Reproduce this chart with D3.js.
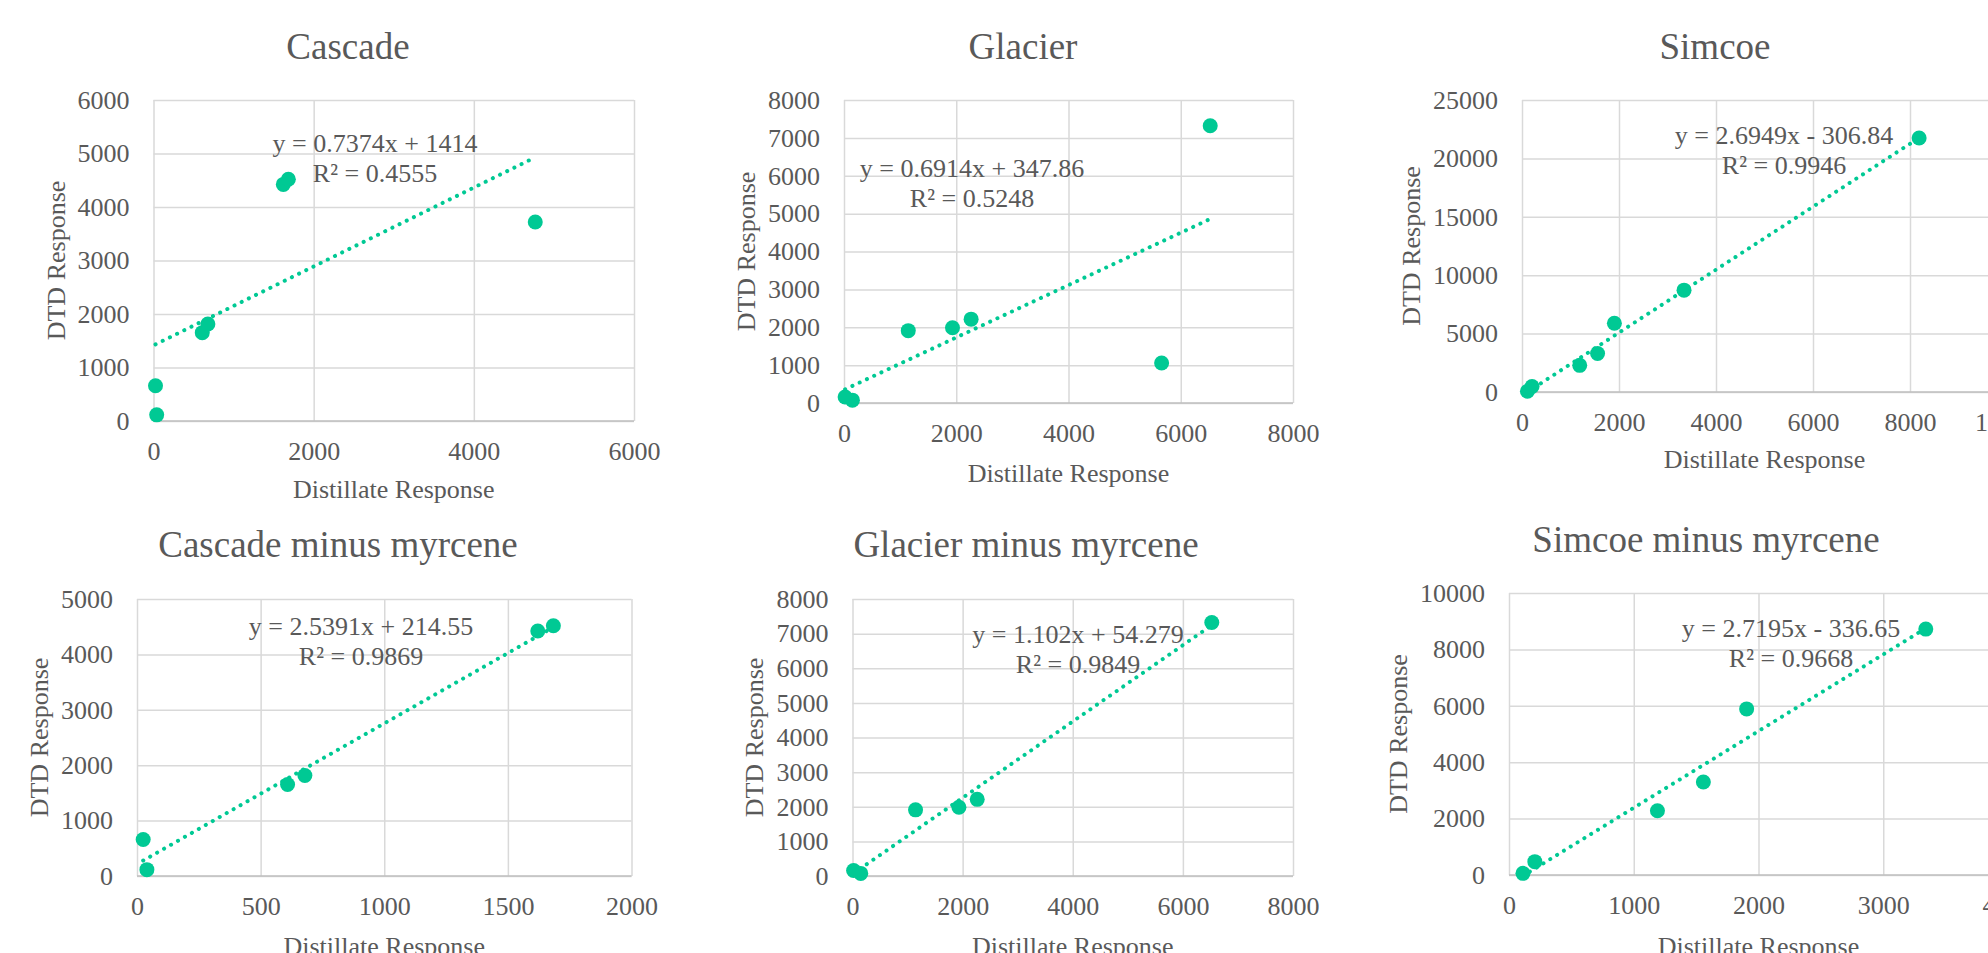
<!DOCTYPE html>
<html>
<head>
<meta charset="utf-8">
<script src="https://cdn.jsdelivr.net/npm/d3@7/dist/d3.min.js"></script>
<style>
  body { margin: 0; background: #fff; }
  svg { display: block; font-family: "Liberation Serif", "Times New Roman", serif; }
</style>
</head>
<body>
<div id="chart"></div>
<script>
// values (distillate vs DTD response)
var cascadeX = [25, 40, 609, 679, 1621, 1684, 4767];
var cascadeY = [660, 115, 1651, 1813, 4422, 4518, 3719];
var glacierX = [20, 150, 1145, 1933, 2265, 5659, 6525];
var glacierY = [160, 75, 1910, 1985, 2214, 1057, 7320];
var simcoeX = [112, 207, 1190, 1558, 1905, 3341, 8188];
var simcoeY = [59, 473, 2280, 3300, 5890, 8720, 21750];

// same samples with the myrcene point left out
var cascadeMinusX = [25, 40, 609, 679, 1621, 1684];
var cascadeMinusY = [660, 115, 1651, 1813, 4422, 4518];
var glacierMinusX = [20, 150, 1145, 1933, 2265, 6525];
var glacierMinusY = [160, 75, 1910, 1985, 2214, 7320];
var simcoeMinusX = [112, 207, 1190, 1558, 1905, 3341];
var simcoeMinusY = [59, 473, 2280, 3300, 5890, 8720];

// linear trendlines as printed on the chart: [slope, intercept]
var cascadeFit = [0.7374, 1414];
var glacierFit = [0.6914, 347.86];
var simcoeFit = [2.6949, -306.84];
var cascadeMinusFit = [2.5391, 214.55];
var glacierMinusFit = [1.102, 54.279];
var simcoeMinusFit = [2.7195, -336.65];

var cascadeEq = ["y = 0.7374x + 1414", "R² = 0.4555"];
var glacierEq = ["y = 0.6914x + 347.86", "R² = 0.5248"];
var simcoeEq = ["y = 2.6949x - 306.84", "R² = 0.9946"];
var cascadeMinusEq = ["y = 2.5391x + 214.55", "R² = 0.9869"];
var glacierMinusEq = ["y = 1.102x + 54.279", "R² = 0.9849"];
var simcoeMinusEq = ["y = 2.7195x - 336.65", "R² = 0.9668"];

// tick values
var cascadeXTicks = [0, 2000, 4000, 6000];
var cascadeYTicks = [0, 1000, 2000, 3000, 4000, 5000, 6000];
var glacierXTicks = [0, 2000, 4000, 6000, 8000];
var glacierYTicks = [0, 1000, 2000, 3000, 4000, 5000, 6000, 7000, 8000];
var simcoeXTicks = [0, 2000, 4000, 6000, 8000, 10000];
var simcoeYTicks = [0, 5000, 10000, 15000, 20000, 25000];
var cascadeMinusXTicks = [0, 500, 1000, 1500, 2000];
var cascadeMinusYTicks = [0, 1000, 2000, 3000, 4000, 5000];
var simcoeMinusXTicks = [0, 1000, 2000, 3000, 4000];
var simcoeMinusYTicks = [0, 2000, 4000, 6000, 8000, 10000];

var panels = [
  {title: "Cascade", xs: cascadeX, ys: cascadeY, fit: cascadeFit, eq: cascadeEq,
   xTicks: cascadeXTicks, yTicks: cascadeYTicks,
   box: [153.5, 634, 100, 421], titleAt: [348, 59], yLabX: 56, xLabY: 498, eqAt: [375, 152]},
  {title: "Glacier", xs: glacierX, ys: glacierY, fit: glacierFit, eq: glacierEq,
   xTicks: glacierXTicks, yTicks: glacierYTicks,
   box: [844, 1293, 100, 403], titleAt: [1023, 59], yLabX: 746, xLabY: 482, eqAt: [972, 177]},
  {title: "Simcoe", xs: simcoeX, ys: simcoeY, fit: simcoeFit, eq: simcoeEq,
   xTicks: simcoeXTicks, yTicks: simcoeYTicks,
   box: [1522, 2007, 100, 392], titleAt: [1715, 59], yLabX: 1411, xLabY: 468, eqAt: [1784, 144]},
  {title: "Cascade minus myrcene", xs: cascadeMinusX, ys: cascadeMinusY, fit: cascadeMinusFit, eq: cascadeMinusEq,
   xTicks: cascadeMinusXTicks, yTicks: cascadeMinusYTicks,
   box: [137, 631.5, 599, 876], titleAt: [338, 557], yLabX: 39, xLabY: 955, eqAt: [361, 635]},
  {title: "Glacier minus myrcene", xs: glacierMinusX, ys: glacierMinusY, fit: glacierMinusFit, eq: glacierMinusEq,
   xTicks: glacierXTicks, yTicks: glacierYTicks,
   box: [852.5, 1293, 599, 876], titleAt: [1026, 557], yLabX: 754, xLabY: 955, eqAt: [1078, 643]},
  {title: "Simcoe minus myrcene", xs: simcoeMinusX, ys: simcoeMinusY, fit: simcoeMinusFit, eq: simcoeMinusEq,
   xTicks: simcoeMinusXTicks, yTicks: simcoeMinusYTicks,
   box: [1509, 2008, 593, 875], titleAt: [1706, 552], yLabX: 1398, xLabY: 955, eqAt: [1791, 637]}
];

var textColor = "#595959";
var gridColor = "#d9d9d9";
var dotColor = "#00c994";

var svg = d3.select("#chart").append("svg")
  .attr("width", 1988)
  .attr("height", 953);

function drawPanel(p) {
  var left = p.box[0], right = p.box[1], top = p.box[2], bottom = p.box[3];
  var g = svg.append("g");

  var xScale = d3.scaleLinear()
    .domain([0, d3.max(p.xTicks)])
    .range([left, right]);
  var yScale = d3.scaleLinear()
    .domain([0, d3.max(p.yTicks)])
    .range([bottom, top]);

  // vertical gridlines + x tick labels
  var xAxis = g.append("g")
    .attr("transform", "translate(0," + bottom + ")")
    .call(d3.axisBottom(xScale).tickValues(p.xTicks).tickSize(-(bottom - top)).tickPadding(21).tickFormat(d3.format("d")));
  // horizontal gridlines + y tick labels
  var yAxis = g.append("g")
    .attr("transform", "translate(" + left + ",0)")
    .call(d3.axisLeft(yScale).tickValues(p.yTicks).tickSize(-(right - left)).tickPadding(24).tickFormat(d3.format("d")));

  [xAxis, yAxis].forEach(function(a){
    a.select(".domain").remove();
    a.selectAll(".tick line").attr("stroke", gridColor).attr("stroke-width", 1.5);
    a.selectAll(".tick text")
      .attr("fill", textColor)
      .style("font-family", "Liberation Serif")
      .style("font-size", "26px");
  });

  // x axis line
  g.append("line")
    .attr("x1", left).attr("x2", right)
    .attr("y1", bottom).attr("y2", bottom)
    .attr("stroke", "#bfbfbf")
    .attr("stroke-width", 1.5);

  // data points
  g.append("g").selectAll("circle").data(p.xs).enter().append("circle")
    .attr("cx", function(d){ return xScale(d); })
    .attr("cy", function(d, i){ return yScale(p.ys[i]); })
    .attr("r", 7.5)
    .attr("fill", dotColor);

  // dotted linear trendline over the data range
  var x0 = d3.min(p.xs), x1 = d3.max(p.xs);
  g.append("line")
    .attr("x1", xScale(x0)).attr("y1", yScale(p.fit[0] * x0 + p.fit[1]))
    .attr("x2", xScale(x1)).attr("y2", yScale(p.fit[0] * x1 + p.fit[1]))
    .attr("stroke", dotColor)
    .attr("stroke-width", 4)
    .attr("stroke-linecap", "round")
    .attr("stroke-dasharray", "0.1 7.9");

  // equation + R²
  g.append("g").selectAll("text").data(p.eq).enter().append("text")
    .attr("x", p.eqAt[0])
    .attr("y", function(d, i){ return p.eqAt[1] + i * 30; })
    .attr("text-anchor", "middle")
    .attr("fill", textColor)
    .style("font-size", "26px")
    .text(function(d){ return d; });

  // titles
  g.append("text")
    .attr("x", p.titleAt[0])
    .attr("y", p.titleAt[1])
    .attr("text-anchor", "middle")
    .attr("fill", textColor)
    .style("font-size", "37px")
    .text(p.title);

  g.append("text")
    .attr("transform", "translate(" + p.yLabX + "," + ((top + bottom) / 2) + ") rotate(-90)")
    .attr("text-anchor", "middle")
    .attr("dy", "0.33em")
    .attr("fill", textColor)
    .style("font-size", "26px")
    .text("DTD Response");

  g.append("text")
    .attr("x", (left + right) / 2)
    .attr("y", p.xLabY)
    .attr("text-anchor", "middle")
    .attr("fill", textColor)
    .style("font-size", "26px")
    .text("Distillate Response");
}

panels.forEach(drawPanel);
</script>
</body>
</html>
